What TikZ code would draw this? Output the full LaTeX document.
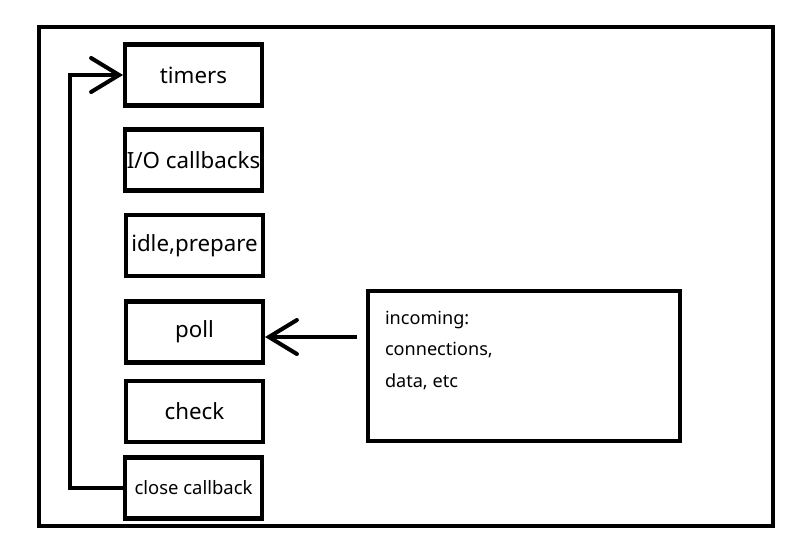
\documentclass[tikz,border=0pt]{standalone}
\usepackage{fontspec}
\setmainfont{Noto Sans}
\usetikzlibrary{arrows.meta}

\begin{document}
\begin{tikzpicture}[x=0.02cm, y=-0.02cm, line width=2.3pt,
		phase/.style={draw, minimum width=2.74cm, minimum height=1.22cm, inner sep=0pt, font=\fontsize{12.7}{15}\selectfont},
		barb/.style={-{Straight Barb[length=0.56cm, width=0.68cm, line cap=round]}}]
		\useasboundingbox (0,0) rectangle (794,538);
		\draw (39,27) rectangle (773,526);
		% the phases of the loop
		\node[phase] (timers) at (193.5,75) {timers};
		\node[phase] (io) at (193.5,160) {I/O callbacks};
		\node[phase] (idle) at (194.5,245.5) {idle,prepare};
		\node[phase] (poll) at (194.5,332) {poll};
		\node[phase] (check) at (194.5,411.5) {check};
		\node[phase, font=\fontsize{10.5}{12}\selectfont] (close) at (193.5,488) {close callback};
		% incoming events
		\node[draw, minimum width=6.24cm, minimum height=3cm, inner sep=0pt] (in) at (524,366) {};
		\node[anchor=north west, align=left, inner sep=0pt, font=\fontsize{10.3}{18}\selectfont] (intext) at (383,309) {incoming:\\connections,\\data, etc};
		\coordinate (src) at (357,337);
		\draw[barb] (src) -- (poll.east |- src);
		\draw[barb] (close.west) -- ++(-53,0) |- (timers.west);
	\end{tikzpicture}
\end{document}
